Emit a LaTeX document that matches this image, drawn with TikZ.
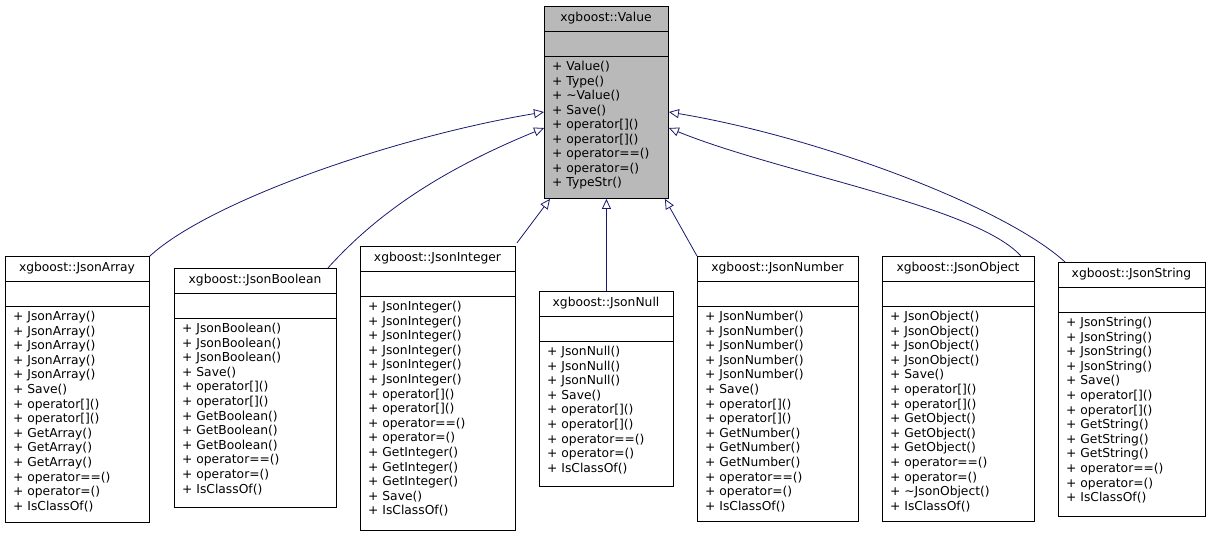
\documentclass[tikz,border=0pt]{standalone}
\usepackage{fontspec}
\setmainfont{DejaVu Sans}
\usetikzlibrary{arrows.meta}
\definecolor{edge}{HTML}{191970}
\newcommand{\umlbox}[9]{%
  \node[draw=black,line width=0.9pt,fill=#8,minimum width={(#4-#2)*1pt},minimum height={(#5-#3)*1pt},anchor=north west,inner sep=0pt] (#1) at (#2,#3) {};
  \draw[line width=0.9pt] (#2,#3+25) -- (#4,#3+25) (#2,#3+50) -- (#4,#3+50);
  \node[font=\fontsize{12.3}{14}\selectfont] (#1-t) at ({(#2+#4)/2},#3+12.5) {#6};
  \node[anchor=north west,align=left,inner sep=0pt,font=\fontsize{12.3}{#9}\selectfont] (#1-m) at (#2+8,#3+55) {#7};
}
\begin{document}
\begin{tikzpicture}[x=1pt,y=-1pt,
  inh/.style={draw=edge,line width=0.8pt,-{Triangle[open,length=10pt,width=9pt]}}]
\useasboundingbox (0,0) rectangle (1211,536);
\umlbox{val}{544}{6}{668}{198}{xgboost::Value}{+ Value()\\+ Type()\\+ \textasciitilde Value()\\+ Save()\\+ operator[]()\\+ operator[]()\\+ operator==()\\+ operator=()\\+ TypeStr()}{gray!55}{14.5}
\umlbox{arr}{5}{256}{149}{522}{xgboost::JsonArray}{+ JsonArray()\\+ JsonArray()\\+ JsonArray()\\+ JsonArray()\\+ JsonArray()\\+ Save()\\+ operator[]()\\+ operator[]()\\+ GetArray()\\+ GetArray()\\+ GetArray()\\+ operator==()\\+ operator=()\\+ IsClassOf()}{white}{14.6}
\umlbox{boo}{174}{268}{336}{507}{xgboost::JsonBoolean}{+ JsonBoolean()\\+ JsonBoolean()\\+ JsonBoolean()\\+ Save()\\+ operator[]()\\+ operator[]()\\+ GetBoolean()\\+ GetBoolean()\\+ GetBoolean()\\+ operator==()\\+ operator=()\\+ IsClassOf()}{white}{14.6}
\umlbox{int}{360}{246}{515}{530}{xgboost::JsonInteger}{+ JsonInteger()\\+ JsonInteger()\\+ JsonInteger()\\+ JsonInteger()\\+ JsonInteger()\\+ JsonInteger()\\+ operator[]()\\+ operator[]()\\+ operator==()\\+ operator=()\\+ GetInteger()\\+ GetInteger()\\+ GetInteger()\\+ Save()\\+ IsClassOf()}{white}{14.6}
\umlbox{nul}{539}{291}{673}{486}{xgboost::JsonNull}{+ JsonNull()\\+ JsonNull()\\+ JsonNull()\\+ Save()\\+ operator[]()\\+ operator[]()\\+ operator==()\\+ operator=()\\+ IsClassOf()}{white}{14.6}
\umlbox{num}{697}{256}{858}{521}{xgboost::JsonNumber}{+ JsonNumber()\\+ JsonNumber()\\+ JsonNumber()\\+ JsonNumber()\\+ JsonNumber()\\+ Save()\\+ operator[]()\\+ operator[]()\\+ GetNumber()\\+ GetNumber()\\+ GetNumber()\\+ operator==()\\+ operator=()\\+ IsClassOf()}{white}{14.6}
\umlbox{obj}{882}{256}{1034}{521}{xgboost::JsonObject}{+ JsonObject()\\+ JsonObject()\\+ JsonObject()\\+ JsonObject()\\+ Save()\\+ operator[]()\\+ operator[]()\\+ GetObject()\\+ GetObject()\\+ GetObject()\\+ operator==()\\+ operator=()\\+ \textasciitilde JsonObject()\\+ IsClassOf()}{white}{14.6}
\umlbox{str}{1058}{262}{1205}{516}{xgboost::JsonString}{+ JsonString()\\+ JsonString()\\+ JsonString()\\+ JsonString()\\+ Save()\\+ operator[]()\\+ operator[]()\\+ GetString()\\+ GetString()\\+ GetString()\\+ operator==()\\+ operator=()\\+ IsClassOf()}{white}{14.6}
\coordinate (vL1) at ([yshift=-106pt]val.north west);
\coordinate (vL2) at ([yshift=-122pt]val.north west);
\coordinate (vR1) at ([yshift=-106pt]val.north east);
\coordinate (vR2) at ([yshift=-122pt]val.north east);
\draw[inh] (arr.north east) .. controls +(60,-55) and +(-150,25) .. (vL1);
\draw[inh] ([xshift=-9pt]boo.north east) .. controls +(45,-50) and +(-110,45) .. (vL2);
\draw[inh] ([xshift=1pt,yshift=3pt]int.north east) -- ([xshift=6pt]val.south west);
\draw[inh] (nul.north -| val.south) -- (val.south);
\draw[inh] (num.north west) -- ([xshift=-4pt]val.south east);
\draw[inh] ([xshift=-14pt]obj.north east) .. controls +(-45,-50) and +(110,45) .. (vR2);
\draw[inh] ([xshift=7pt]str.north west) .. controls +(-60,-55) and +(150,25) .. (vR1);
\end{tikzpicture}
\end{document}
